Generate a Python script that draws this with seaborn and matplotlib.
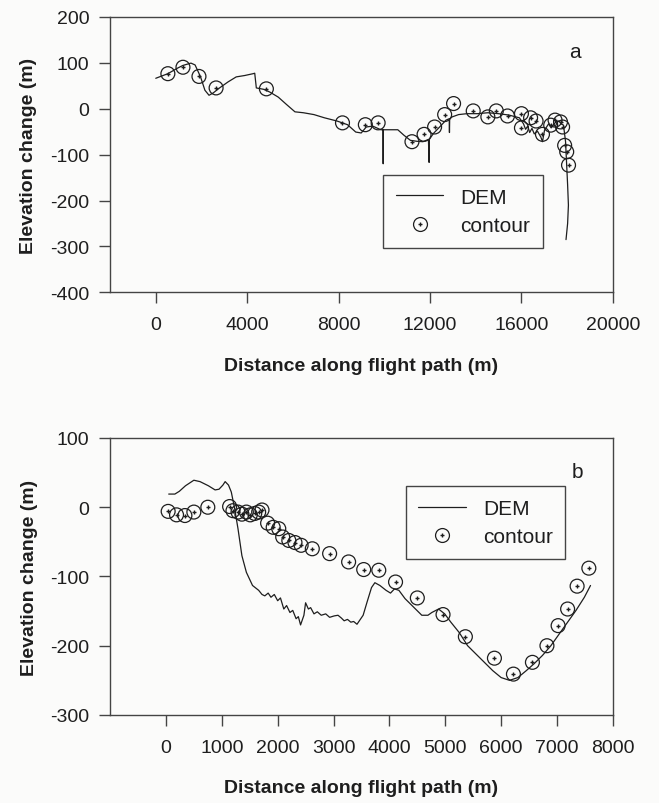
import matplotlib
matplotlib.use("Agg")
import matplotlib.pyplot as plt
from matplotlib.lines import Line2D
from matplotlib.legend_handler import HandlerTuple
import numpy as np
import pandas as pd
import seaborn as sns

# ---- panel a data ----
dem_a_x = [0, 530, 950, 1190, 1540, 1720, 1960, 2150, 2330, 2510, 2790, 3160, 3520,
           3890, 4260, 4330, 4400, 4720, 4990, 5360, 5720, 6090, 6460, 6920, 7380,
           7930, 8390, 8750, 8990, 9210, 9490, 9850, 9940, 9950, 9960, 10220, 10590,
           10860, 11140, 11410, 11690, 11930, 11960, 11970, 12150, 12420, 12700, 12840,
           12850, 12860, 12970, 13250, 13620, 14070, 14530, 14990, 15450, 15910, 16090,
           16180, 16275, 16360, 16460, 16560, 16700, 16850, 16920, 17010, 17100, 17190,
           17300, 17430, 17540, 17650, 17740, 17840, 17930, 18020, 18055, 18020, 17950]
dem_a_y = [66, 76, 88, 94, 99, 95, 69, 40, 29, 34, 45, 58, 69,
           72, 76, 77, 45, 42, 36, 25, 9, -7, -9, -13, -20,
           -27, -35, -51, -53, -40, -38, -46, -46, -120, -46, -46, -46,
           -58, -69, -71, -72, -67, -117, -67, -54, -40, -25, -22,
           -52, -22, -18, -13, -11, -11, -9, -11, -14, -20, -33,
           -45, -38, -52, -43, -55, -49, -62, -72, -47, -40, -33,
           -42, -33, -28, -27, -33, -36, -72, -166, -210, -250, -285]

cont_a_x = [530, 1190, 1890, 2640, 4840, 8170, 9170, 9730, 11210, 11740, 12200,
            12640, 13030, 13890, 14530, 14900, 15390, 16000, 16000, 16400, 16640,
            16920, 17280, 17470, 17710, 17800, 17890, 17980, 18060]
cont_a_y = [76, 90, 70, 45, 43, -31, -35, -31, -72, -56, -40,
            -13, 11, -5, -18, -5, -16, -11, -42, -20, -27,
            -56, -36, -25, -29, -40, -80, -94, -123]

# ---- panel b data ----
dem_b_x = [50, 160, 240, 350, 500, 610, 760, 880, 950, 1020, 1060, 1120, 1170, 1230,
           1290, 1360, 1440, 1550, 1660, 1720, 1770, 1830, 1880, 1940, 2000, 2050,
           2110, 2160, 2220, 2270, 2330, 2370, 2410, 2470, 2500, 2550, 2590, 2650,
           2710, 2780, 2860, 2930, 3010, 3080, 3140, 3190, 3250, 3310, 3360, 3420,
           3530, 3600, 3680, 3740, 3830, 3940, 4020, 4090, 4170, 4280, 4430, 4580,
           4690, 4760, 4880, 4990, 5100, 5250, 5400, 5550, 5700, 5850, 6000, 6150,
           6300, 6450, 6590, 6740, 6890, 7040, 7190, 7340, 7490, 7600]
dem_b_y = [19, 19, 23, 31, 39, 37, 31, 25, 26, 32, 37, 32, 22, -2,
           -31, -70, -94, -113, -120, -126, -128, -124, -130, -126, -135, -131,
           -147, -142, -152, -149, -161, -158, -170, -156, -138, -147, -145, -154,
           -151, -156, -154, -159, -157, -156, -160, -164, -162, -166, -165, -169,
           -156, -137, -116, -109, -113, -120, -124, -118, -120, -132, -144, -156,
           -156, -152, -147, -154, -166, -181, -200, -212, -224, -236, -246, -250,
           -246, -236, -226, -214, -200, -183, -166, -149, -130, -113]

cont_b_x = [40, 190, 340, 500, 750, 1140, 1200, 1290, 1360, 1440, 1510, 1590,
            1660, 1720, 1820, 1920, 2020, 2090, 2200, 2310, 2420, 2620, 2930,
            3270, 3540, 3810, 4110, 4500, 4960, 5360, 5880, 6220, 6560, 6820,
            7020, 7190, 7360, 7570]
cont_b_y = [-6, -11, -12, -7, 0, 1, -5, -7, -10, -7, -11, -9,
            -7, -4, -23, -29, -31, -43, -48, -51, -55, -60, -67,
            -79, -90, -91, -108, -131, -155, -187, -218, -241, -224, -200,
            -171, -147, -114, -88]

sns.set_theme(style="ticks")
plt.rcParams["font.family"] = ["Liberation Sans", "DejaVu Sans"]
plt.rcParams["axes.unicode_minus"] = False

ink = "#1e1e1e"
spine_c = "#444444"

fig = plt.figure(figsize=(6.59, 8.04), dpi=100, facecolor="#fbfbfa")
ax_a = fig.add_axes([0.167, 0.635, 0.763, 0.343])
ax_b = fig.add_axes([0.167, 0.1095, 0.763, 0.3445])


def draw(ax, dx, dy, cx, cy):
    ax.set_facecolor("#fbfbfa")
    sns.lineplot(x=dx, y=dy, ax=ax, sort=False, estimator=None, color=ink, linewidth=0.9)
    sns.scatterplot(x=cx, y=cy, ax=ax, marker="o", s=100, facecolor="none",
                    edgecolor=ink, linewidth=0.9, zorder=3)
    sns.scatterplot(x=cx, y=cy, ax=ax, marker="+", s=12, color=ink, linewidth=1.0, zorder=4)
    for s in ax.spines.values():
        s.set_color(spine_c)
        s.set_linewidth(1.0)
    ax.tick_params(axis="both", direction="out", length=8, width=1.0, color=spine_c,
                   labelsize=14, labelcolor=ink)
    ax.tick_params(axis="x", pad=9)
    ax.tick_params(axis="y", pad=7)
    ax.set_xlabel("Distance along flight path (m)", fontsize=14, fontweight="bold",
                  color=ink, labelpad=17)
    ax.set_ylabel("Elevation change (m)", fontsize=14, fontweight="bold",
                  color=ink, labelpad=9)


draw(ax_a, dem_a_x, dem_a_y, cont_a_x, cont_a_y)
draw(ax_b, dem_b_x, dem_b_y, cont_b_x, cont_b_y)

ax_a.set_xlim(-2000, 20000)
ax_a.set_ylim(-400, 200)
ax_a.set_xticks(np.arange(0, 20001, 4000))
ax_a.set_yticks(np.arange(-400, 201, 100))

ax_b.set_xlim(-1000, 8000)
ax_b.set_ylim(-300, 100)
ax_b.set_xticks(np.arange(0, 8001, 1000))
ax_b.set_yticks(np.arange(-300, 101, 100))

ax_a.text(0.924, 0.873, "a", transform=ax_a.transAxes, fontsize=15, color=ink,
          ha="center", va="center")
ax_b.text(0.929, 0.879, "b", transform=ax_b.transAxes, fontsize=15, color=ink,
          ha="center", va="center")

h_line = Line2D([], [], color=ink, linewidth=0.9)
h_circ = Line2D([], [], linestyle="none", marker="o", markersize=10,
                markerfacecolor="none", markeredgecolor=ink, markeredgewidth=0.9)
h_plus = Line2D([], [], linestyle="none", marker="+", markersize=3.5,
                markeredgecolor=ink, markeredgewidth=1.0)

for ax, anchor in [(ax_a, (0.543, 0.425)), (ax_b, (0.588, 0.825))]:
    leg = ax.legend([h_line, (h_circ, h_plus)], ["DEM", "contour"],
                    handler_map={tuple: HandlerTuple(ndivide=1)},
                    loc="upper left", bbox_to_anchor=anchor, fontsize=15,
                    frameon=True, fancybox=False, shadow=False, handlelength=2.3,
                    handletextpad=0.8, borderpad=0.6, labelspacing=0.45,
                    borderaxespad=0)
    fr = leg.get_frame()
    fr.set_edgecolor(spine_c)
    fr.set_linewidth(1.0)
    fr.set_facecolor("#fbfbfa")
    fr.set_alpha(1)
    for t in leg.get_texts():
        t.set_color(ink)

fig.savefig("out.png", dpi=100, facecolor=fig.get_facecolor())
